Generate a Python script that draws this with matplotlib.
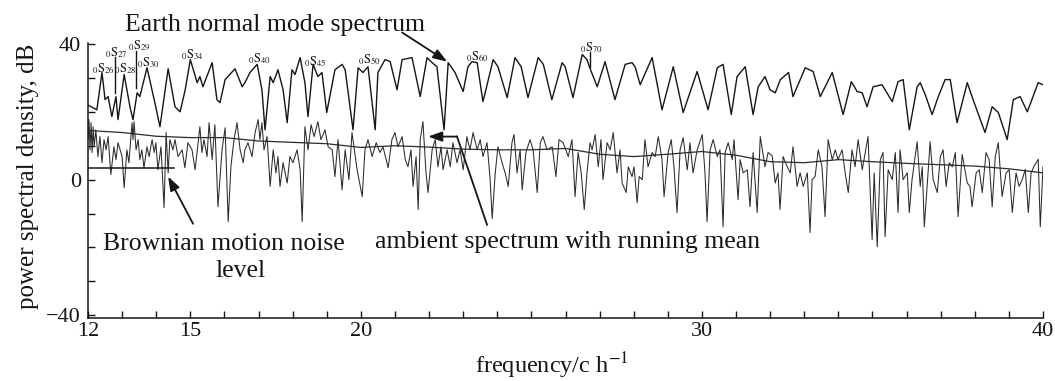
import matplotlib
matplotlib.use("Agg")
import matplotlib.pyplot as plt
from matplotlib.ticker import FixedLocator, MultipleLocator

# Earth normal mode spectrum (upper trace)
upper_freq = [
  12.00, 12.26, 12.41, 12.50, 12.59, 12.70, 12.82, 12.88, 13.06, 13.23,
  13.32, 13.44, 13.52, 13.73, 13.96, 14.11, 14.35, 14.55, 14.70, 14.85,
  15.00, 15.20, 15.28, 15.37, 15.64, 15.78, 15.87, 16.02, 16.31, 16.52,
  16.60, 16.75, 16.96, 17.10, 17.19, 17.34, 17.43, 17.57, 17.72, 17.84,
  17.98, 18.07, 18.22, 18.36, 18.45, 18.60, 18.74, 18.86, 19.00, 19.24,
  19.45, 19.54, 19.77, 19.92, 20.06, 20.21, 20.42, 20.50, 20.71, 20.86,
  21.06, 21.21, 21.50, 21.74, 21.94, 22.09, 22.23, 22.44, 22.56, 22.76,
  23.00, 23.14, 23.26, 23.41, 23.58, 23.88, 24.02, 24.29, 24.52, 24.70,
  24.90, 25.20, 25.35, 25.60, 25.90, 25.99, 26.22, 26.49, 26.63, 26.70,
  26.93, 27.16, 27.45, 27.75, 27.95, 28.04, 28.19, 28.54, 28.83, 29.16,
  29.45, 29.86, 30.18, 30.45, 30.62, 30.86, 31.03, 31.27, 31.50, 31.65,
  31.85, 32.00, 32.15, 32.30, 32.54, 32.67, 33.03, 33.26, 33.47, 33.82,
  34.14, 34.38, 34.55, 34.70, 34.84, 35.02, 35.28, 35.37, 35.58, 35.75,
  35.90, 36.08, 36.31, 36.40, 36.55, 36.75, 36.93, 37.13, 37.28, 37.48,
  37.78, 37.95, 38.30, 38.51, 38.69, 38.95, 39.13, 39.33, 39.54, 39.86,
  40.00,
]
upper_db = [
  22.0, 20.6, 31.6, 23.6, 24.5, 18.6, 24.5, 17.7, 31.0, 21.5,
  17.7, 25.6, 24.5, 33.0, 22.7, 15.6, 32.7, 21.5, 20.0, 26.5,
  35.4, 28.6, 30.4, 27.4, 34.5, 23.6, 22.7, 29.5, 32.7, 27.4,
  28.6, 31.6, 34.0, 26.5, 14.7, 30.4, 28.6, 32.4, 26.5, 16.8,
  32.4, 31.0, 36.0, 28.6, 18.6, 34.0, 30.4, 31.6, 19.8, 32.4,
  34.0, 32.4, 14.7, 33.0, 31.6, 33.3, 14.7, 31.6, 35.4, 34.8,
  26.5, 35.4, 36.0, 24.5, 36.0, 34.5, 33.3, 14.7, 34.5, 31.6,
  26.0, 33.3, 34.8, 34.5, 23.0, 35.4, 33.3, 24.2, 36.0, 33.3,
  24.2, 36.0, 34.0, 23.6, 34.5, 33.3, 24.2, 36.9, 35.4, 33.3,
  27.4, 34.8, 23.6, 34.0, 34.5, 33.3, 28.0, 36.0, 20.6, 33.3,
  19.8, 31.9, 20.6, 33.0, 34.0, 19.2, 30.4, 33.3, 19.2, 27.4,
  30.4, 26.5, 25.6, 29.5, 31.6, 24.5, 33.0, 31.9, 24.5, 31.6,
  19.2, 28.9, 26.0, 25.6, 21.5, 27.4, 28.0, 26.5, 23.0, 28.9,
  29.5, 14.7, 27.4, 28.6, 25.0, 19.2, 24.5, 29.5, 29.5, 16.8,
  28.6, 23.6, 13.9, 21.5, 19.8, 11.8, 23.6, 24.5, 20.0, 28.6,
  28.0,
]

# Ambient spectrum (lower trace)
ambient_freq = [
  12.00, 12.03, 12.06, 12.09, 12.12, 12.15, 12.18, 12.23, 12.29, 12.35,
  12.41, 12.47, 12.53, 12.59, 12.67, 12.76, 12.82, 12.88, 13.00, 13.06,
  13.14, 13.20, 13.29, 13.32, 13.35, 13.41, 13.47, 13.52, 13.58, 13.64,
  13.73, 13.79, 13.88, 13.94, 13.99, 14.05, 14.14, 14.23, 14.29, 14.35,
  14.40, 14.49, 14.55, 14.64, 14.76, 14.84, 14.93, 15.05, 15.14, 15.28,
  15.34, 15.40, 15.49, 15.55, 15.64, 15.72, 15.81, 15.93, 16.02, 16.11,
  16.19, 16.28, 16.37, 16.46, 16.55,
  16.60, 16.69, 16.81, 16.90, 16.99, 17.04, 17.10, 17.16, 17.25, 17.34,
  17.43, 17.51, 17.57, 17.63, 17.72, 17.84, 17.92, 18.01, 18.13, 18.22,
  18.28, 18.36, 18.45, 18.54, 18.63, 18.74, 18.83, 18.95, 19.04, 19.16,
  19.24, 19.33, 19.45, 19.54, 19.65, 19.74, 19.89, 20.04, 20.12, 20.21,
  20.33, 20.45, 20.56, 20.65, 20.80, 20.91, 21.00, 21.09, 21.21,
  21.30, 21.38, 21.47, 21.53, 21.62, 21.68, 21.74, 21.82, 21.91, 21.97,
  22.09, 22.18, 22.26, 22.35, 22.41, 22.53, 22.62, 22.70, 22.82, 22.91,
  23.00, 23.11, 23.20, 23.29, 23.41, 23.50, 23.58, 23.70, 23.79, 23.85,
  23.94, 24.02, 24.14, 24.23, 24.32, 24.43, 24.49, 24.58, 24.67, 24.73,
  24.84, 24.96, 25.05, 25.17, 25.26, 25.34, 25.46, 25.61, 25.72, 25.81,
  25.93,
  26.08, 26.19, 26.28, 26.37, 26.46, 26.55, 26.63, 26.72, 26.78, 26.87,
  26.96, 27.04, 27.10, 27.22, 27.31, 27.40, 27.51, 27.60, 27.66, 27.78,
  27.84, 27.95, 28.01, 28.10, 28.16, 28.25, 28.33, 28.42, 28.54, 28.63,
  28.72, 28.83, 28.89, 29.01, 29.10, 29.18, 29.27, 29.36, 29.45, 29.57,
  29.65, 29.74, 29.86, 30.01, 30.09, 30.15, 30.24, 30.33, 30.45, 30.53,
  30.62,
  30.68, 30.77, 30.89, 30.94, 31.06, 31.12, 31.21, 31.33, 31.41, 31.50,
  31.62, 31.71, 31.77, 31.85, 31.94, 32.06, 32.15, 32.23, 32.29, 32.38,
  32.50, 32.59, 32.67, 32.79, 32.88, 32.97, 33.09, 33.17, 33.23, 33.32,
  33.41, 33.52, 33.61, 33.70, 33.82, 33.91, 33.99, 34.11, 34.20, 34.29,
  34.40, 34.49, 34.58, 34.70, 34.79, 34.87, 34.99, 35.05, 35.14, 35.23,
  35.31,
  35.37, 35.46, 35.58, 35.67, 35.75, 35.81, 35.90, 36.02, 36.08, 36.16,
  36.31, 36.40, 36.46, 36.52, 36.63, 36.69, 36.78, 36.90, 36.99, 37.07,
  37.16, 37.25, 37.34, 37.43, 37.51, 37.63, 37.78, 37.86, 37.92, 38.04,
  38.13, 38.22, 38.33, 38.42, 38.51, 38.60, 38.69, 38.80, 38.92, 39.01,
  39.10, 39.21, 39.30, 39.39, 39.48, 39.57, 39.65, 39.74, 39.86, 39.92,
  40.00,
]
ambient_db = [
  11.8, 17.7, 8.8, 16.8, 8.0, 15.6, 9.7, 14.7, 6.8, 12.7,
  5.0, 11.8, 8.8, 12.7, 1.5, 9.7, 5.9, 10.9, 6.8, -2.4,
  8.8, 5.0, 16.8, 11.8, 17.1, 8.8, 11.8, 5.9, 8.8, 3.5,
  9.7, 6.8, 11.8, 8.0, 10.9, 2.9, 9.7, -8.3, 13.9, 2.0,
  11.8, 8.8, 11.8, 6.8, 8.8, 3.5, 10.9, 8.8, 2.9, 15.6,
  8.0, 11.8, 6.8, 16.8, 5.9, 16.2, -8.0, 8.8, 15.3, -12.4,
  3.8, 11.8, 16.8, 8.8, 5.0,
  8.8, 10.9, 6.8, 13.9, 17.7, 11.8, 16.8, 8.8, 12.7, -2.0,
  8.8, 2.0, 6.8, -2.0, 5.0, -1.0, 6.8, 5.0, 8.8, 2.9,
  -12.4, 15.6, 8.8, 16.2, 12.7, 17.1, 11.8, 14.7, 9.7, 8.8,
  0.9, 11.8, -3.0, 8.8, 0.0, 13.9, 2.9, -5.0, 8.8, 11.8,
  6.8, 10.9, 8.0, 9.7, 3.5, 11.8, 13.9, 9.7, 12.7,
  6.0, 3.8, 8.8, -2.0, 6.8, -8.8, 11.8, 17.1, 2.0, -3.8,
  8.8, 11.8, 3.8, 9.7, 2.9, 8.8, 3.8, 10.9, 5.0, 8.8,
  2.9, 12.7, 8.8, 13.9, 8.8, 11.8, 6.8, 10.9, 0.0, -11.5,
  2.0, 9.7, 5.0, 2.0, -2.0, 10.9, 13.3, 2.0, 8.8, -3.0,
  8.0, 11.8, 8.8, -3.8, 10.9, 12.7, 8.8, 9.7, 0.9, 11.8,
  10.9,
  6.8, 11.8, -5.0, 8.0, 2.0, -8.8, 2.0, 10.9, 8.8, 13.3,
  3.8, 11.8, 0.0, 10.9, 8.8, 13.9, 2.0, 8.8, -1.0, -3.8,
  3.8, 0.9, 3.8, -6.8, 0.9, 0.0, 11.8, 3.8, 8.0, 6.8,
  12.7, 5.9, -5.0, 8.0, 11.8, 3.8, -9.7, 8.8, 12.4, 2.9,
  10.9, 2.0, 8.8, 13.3, 2.0, -12.4, 8.8, 11.8, 6.8, 8.8,
  -13.9,
  8.0, 10.9, 5.9, 11.8, -5.9, 5.9, 2.0, 2.9, -8.0, 8.0,
  -9.7, 12.7, 8.8, 3.8, 8.0, 7.0, -1.0, 2.0, -8.8, 6.8,
  3.8, 2.0, 9.7, -2.0, 2.0, -2.0, 2.0, -15.6, 0.0, 1.0,
  8.8, 3.8, -10.9, 11.8, 5.9, 8.8, 5.9, 8.8, 2.0, -3.8,
  8.8, 3.8, 11.8, 2.9, 8.0, 12.7, -17.7, 2.0, -19.8, 5.9,
  8.0,
  -16.8, 2.9, 0.0, 8.0, -9.7, 8.8, 0.0, 2.0, -9.7, 0.0,
  11.2, -2.0, 3.8, -13.9, 2.0, 11.2, 0.0, -3.8, 6.8, 8.8,
  -2.0, 5.0, 3.8, 8.0, -10.9, 7.4, -1.0, -2.0, -8.0, 2.0,
  2.9, -3.8, 8.0, 5.9, -8.0, 6.8, 10.9, -5.0, 2.0, 2.9,
  -9.7, 2.0, -2.0, 0.0, 3.0, -9.7, 2.0, 4.0, 6.0, -13.9,
  3.8,
]

# Running mean of the ambient spectrum
mean_freq = [12.0, 12.5, 13.0, 14.0, 15.0, 16.0, 17.0, 18.0, 19.0, 20.0,
             21.0, 22.0, 23.0, 24.0, 25.0, 26.0, 27.0, 28.0, 29.0, 30.0,
             31.0, 32.0, 33.0, 34.0, 35.0, 36.0, 37.0, 38.0, 39.0, 40.0]
mean_db = [14.5, 14.2, 13.9, 12.8, 12.4, 12.4, 11.4, 11.0, 10.6, 9.5,
           10.0, 9.6, 9.0, 8.8, 8.8, 9.2, 7.5, 6.8, 7.5, 8.3,
           7.2, 5.3, 5.0, 5.9, 5.3, 4.8, 4.4, 4.0, 3.2, 2.0]

# Brownian motion noise level
brownian_freq = [12.0, 14.53]
brownian_db = [3.3, 3.3]

# Mode labels (overtone 0, angular order l)
mode_order = ["26", "27", "28", "29", "30", "34", "40", "45", "50", "60", "70"]
mode_label_freq = [12.44, 12.82, 13.09, 13.50, 13.76, 15.05, 17.04, 18.66, 20.24, 23.41, 26.75]
mode_label_db = [32.7, 37.5, 32.7, 39.5, 34.5, 36.9, 35.7, 34.8, 35.4, 36.3, 38.9]

x_tick_values = [12, 15, 20, 30, 40]
y_tick_values = [-40, 0, 40]

INK = "#151515"


def plot_spectrum() -> None:
  plt.rcParams.update({
    "font.family": "Liberation Serif",
    "mathtext.fontset": "stix",
    "xtick.labelsize": 16,
    "ytick.labelsize": 16,
  })
  fig = plt.figure(figsize=(10.55, 3.81), dpi=100)
  fig.patch.set_facecolor("white")
  ax = fig.add_axes([88 / 1055, 1 - 318 / 381, 955 / 1055, 275 / 381])

  ax.plot(ambient_freq, ambient_db, color="#2b2b2b", linewidth=0.75, zorder=2)
  ax.plot(mean_freq, mean_db, color="#2b2b2b", linewidth=0.9, zorder=3)
  ax.plot(upper_freq, upper_db, color=INK, linewidth=1.0, zorder=3)
  ax.plot(brownian_freq, brownian_db, color=INK, linewidth=1.1, zorder=3)

  # mode labels and the little marker strokes
  for order, f, db in zip(mode_order, mode_label_freq, mode_label_db):
    ax.text(f, db, r"${}_0\mathrm{S}_{%s}$" % order, fontsize=9, ha="center",
            va="center", color=INK, clip_on=False)
  for f, top, bottom in [(12.79, 36.2, 25.7), (13.41, 38.0, 27.1), (26.72, 37.6, 33.3)]:
    ax.plot([f, f], [top, bottom], color=INK, linewidth=1.0)

  head = dict(arrowstyle="-|>,head_length=0.7,head_width=0.25", color=INK, lw=1.3,
              shrinkA=0, shrinkB=0, mutation_scale=12)

  ax.text(13.09, 43.7, "Earth normal mode spectrum", fontsize=18.5, ha="left",
          va="baseline", color=INK, clip_on=False)
  ax.annotate("", xy=(22.53, 34.8), xytext=(21.21, 43.4), arrowprops=head,
              annotation_clip=False)

  ax.text(15.99, -20.6, "Brownian motion noise", fontsize=18.5, ha="center",
          va="baseline", color=INK)
  ax.text(16.46, -28.6, "level", fontsize=18.5, ha="center", va="baseline", color=INK)
  ax.annotate("", xy=(14.35, 0.9), xytext=(15.08, -13.0), arrowprops=head)

  ax.text(20.42, -20.1, "ambient spectrum with running mean", fontsize=18.5,
          ha="left", va="baseline", color=INK)
  ax.plot([23.70, 22.82], [-13.3, 12.7], color=INK, linewidth=1.3)
  ax.annotate("", xy=(21.97, 12.7), xytext=(22.82, 12.7), arrowprops=head)

  ax.set_xlim(12, 40)
  ax.set_ylim(-40.8, 40.3)
  ax.xaxis.set_major_locator(FixedLocator(x_tick_values))
  ax.xaxis.set_minor_locator(MultipleLocator(1))
  ax.yaxis.set_major_locator(FixedLocator(y_tick_values))
  ax.yaxis.set_minor_locator(MultipleLocator(10))
  ax.tick_params(which="both", direction="in", length=5, width=1.0, colors=INK)
  ax.tick_params(axis="x", pad=3)
  ax.tick_params(axis="y", pad=5)
  for spine in ["top", "right"]:
    ax.spines[spine].set_visible(False)
  for spine in ["left", "bottom"]:
    ax.spines[spine].set_color(INK)
    ax.spines[spine].set_linewidth(1.1)

  fig.text(28 / 1055, 1 - 176 / 381, "power spectral density, dB", rotation=90,
           ha="center", va="center", fontsize=18, color=INK)
  fig.text(552 / 1055, 1 - 366 / 381, "frequency/c h$^{-1}$", ha="center",
           va="center", fontsize=17.5, color=INK)

  fig.savefig("out.png", dpi=100, facecolor="white")
  plt.close(fig)


if __name__ == "__main__":
  plot_spectrum()
